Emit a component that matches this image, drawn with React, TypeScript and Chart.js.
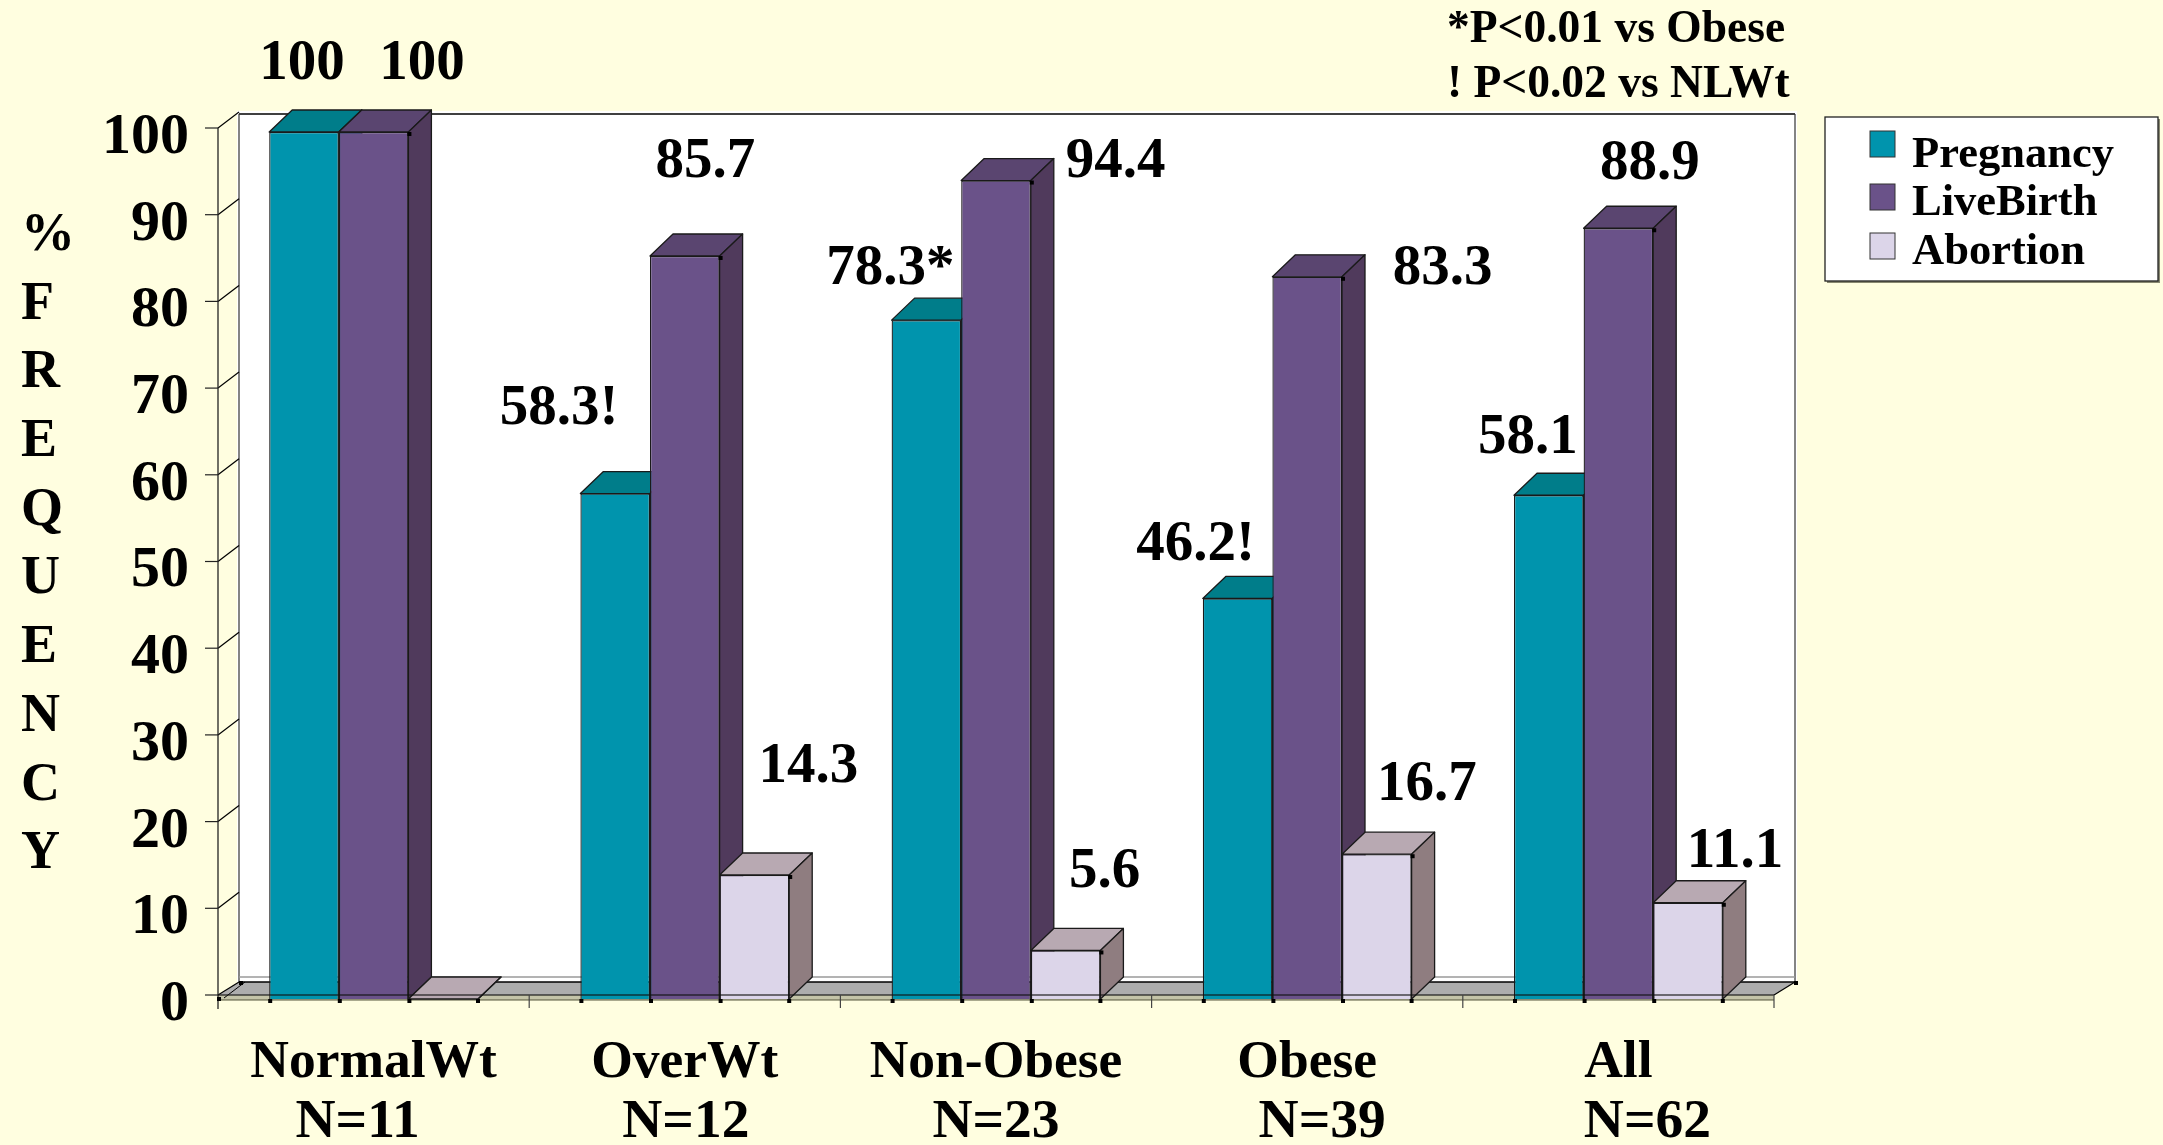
import React, { useEffect, useRef } from "react";
import { Chart, registerables } from "chart.js";

Chart.register(...registerables);

const categories = ["NormalWt", "OverWt", "Non-Obese", "Obese", "All"];
const sampleSizes = ["N=11", "N=12", "N=23", "N=39", "N=62"];
const sampleSizeDx = [-16, 1, 0, 15, 29];

const pregnancy = [100, 58.3, 78.3, 46.2, 58.1];
const liveBirth = [100, 85.7, 94.4, 83.3, 88.9];
const abortion = [0, 14.3, 5.6, 16.7, 11.1];

const pregnancyLabels = ["100", "58.3!", "78.3*", "46.2!", "58.1"];
const liveBirthLabels = ["100", "85.7", "94.4", "83.3", "88.9"];
const abortionLabels = ["", "14.3", "5.6", "16.7", "11.1"];

// Where each value label sits relative to the top centre of its bar.
const pregnancyLabelDx = [-2, -56, -36, -42, -21];
const pregnancyLabelDy = [-68, -84, -51, -53, -57];
const liveBirthLabelDx = [48.5, 20.5, 119.5, 135.5, 31.5];
const liveBirthLabelDy = [-68, -94, -18, -8, -64];
const abortionLabelDx = [0, 54, 39, 50, 47];
const abortionLabelDy = [0, -108, -78, -69, -50];

const yTitleLetters = ["%", "F", "R", "E", "Q", "U", "E", "N", "C", "Y"];
const notes = ["*P<0.01 vs Obese", "! P<0.02 vs NLWt"];

const PAGE_BG = "#FFFEE0";
const SERIF = '"Liberation Serif", "Times New Roman", serif';
const INK = "#000000";

const seriesStyles = [
  { name: "Pregnancy", front: "#0094AD", top: "#007D8A", side: "#00606E" },
  { name: "LiveBirth", front: "#6A5289", top: "#5A4570", side: "#503A5C" },
  { name: "Abortion", front: "#DCD5E9", top: "#B8A9B2", side: "#8F7D80" },
];

const DEPTH_X = 23;
const DEPTH_Y = 22;
const WALL_LEFT = 239;
const WALL_RIGHT = 1795;
const WALL_TOP = 114;
const WALL_BOTTOM = 977;
const FLOOR_BACK = 982;
const FLOOR_FRONT = 995;
const FLOOR_LIP = 1000;
const AXIS_SHIFT = 4;

function poly(ctx: CanvasRenderingContext2D, pts: number[][], fill: string | null, stroke: string | null, lw = 1) {
  ctx.beginPath();
  pts.forEach((p, i) => (i ? ctx.lineTo(p[0], p[1]) : ctx.moveTo(p[0], p[1])));
  ctx.closePath();
  if (fill) {
    ctx.fillStyle = fill;
    ctx.fill();
  }
  if (stroke) {
    ctx.strokeStyle = stroke;
    ctx.lineWidth = lw;
    ctx.stroke();
  }
}

function line(ctx: CanvasRenderingContext2D, x1: number, y1: number, x2: number, y2: number, color: string, lw = 1) {
  ctx.beginPath();
  ctx.moveTo(x1, y1);
  ctx.lineTo(x2, y2);
  ctx.strokeStyle = color;
  ctx.lineWidth = lw;
  ctx.stroke();
}

const scene = {
  id: "scene",
  // Page fill, back wall, floor and the slanted wall ticks sit behind the bars.
  beforeDraw(chart: any) {
    const { ctx, chartArea } = chart;
    const y = chart.scales.y;
    ctx.save();
    ctx.fillStyle = PAGE_BG;
    ctx.fillRect(0, 0, chart.width, chart.height);

    ctx.fillStyle = "#FFFFFF";
    ctx.fillRect(WALL_LEFT - 2, WALL_TOP - 3, WALL_RIGHT - WALL_LEFT + 4, FLOOR_BACK - WALL_TOP + 3);
    line(ctx, WALL_LEFT, WALL_TOP, WALL_RIGHT, WALL_TOP, INK, 1.5);
    line(ctx, WALL_LEFT, WALL_TOP, WALL_LEFT, FLOOR_BACK, "#333333", 1.2);
    line(ctx, WALL_RIGHT, WALL_TOP, WALL_RIGHT, FLOOR_BACK, "#333333", 1.2);
    line(ctx, WALL_LEFT, WALL_BOTTOM, WALL_RIGHT, WALL_BOTTOM, "#9A9A9A", 1.5);

    poly(
      ctx,
      [
        [chartArea.left, FLOOR_FRONT],
        [WALL_LEFT, FLOOR_BACK],
        [WALL_RIGHT, FLOOR_BACK],
        [chartArea.right, FLOOR_FRONT],
        [chartArea.right, FLOOR_LIP],
        [chartArea.left, FLOOR_LIP],
      ],
      "#ADADAD",
      null
    );
    ctx.fillStyle = "#C4C4A8";
    ctx.fillRect(chartArea.left, FLOOR_FRONT, chartArea.right - chartArea.left, FLOOR_LIP - FLOOR_FRONT);
    line(ctx, WALL_LEFT, FLOOR_BACK, WALL_RIGHT, FLOOR_BACK, INK, 1.5);
    line(ctx, chartArea.left, FLOOR_LIP, chartArea.right, FLOOR_LIP, "#55553A", 1.2);
    line(ctx, chartArea.left, FLOOR_FRONT, WALL_LEFT, FLOOR_BACK, INK, 1.2);
    line(ctx, chartArea.left + 6, FLOOR_LIP - 2, WALL_LEFT + 6, FLOOR_BACK, INK, 1);
    line(ctx, chartArea.right, FLOOR_FRONT, WALL_RIGHT, FLOOR_BACK, INK, 1.2);

    y.ticks.forEach((t: any) => {
      const py = y.getPixelForValue(t.value) - AXIS_SHIFT;
      if (t.value > 0) line(ctx, chartArea.left, py, WALL_LEFT, py - 16, INK, 1.2);
    });
    ctx.restore();
  },
  // Top and side faces go down first, series by series, so each front face covers them.
  beforeDatasetsDraw(chart: any) {
    const { ctx } = chart;
    ctx.save();
    ctx.lineJoin = "round";
    seriesStyles.forEach((s, j) => {
      chart.getDatasetMeta(j).data.forEach((bar: any) => {
        const l = bar.x - bar.width / 2;
        const r = bar.x + bar.width / 2;
        const t = bar.y;
        const b = bar.base;
        poly(
          ctx,
          [
            [l, t],
            [l + DEPTH_X, t - DEPTH_Y],
            [r + DEPTH_X, t - DEPTH_Y],
            [r, t],
          ],
          s.top,
          "#1A1A1A",
          1.3
        );
        poly(
          ctx,
          [
            [r, t],
            [r + DEPTH_X, t - DEPTH_Y],
            [r + DEPTH_X, b - DEPTH_Y],
            [r, b],
          ],
          s.side,
          "#1A1A1A",
          1.3
        );
      });
    });
    ctx.restore();
  },
  afterDatasetsDraw(chart: any) {
    const { ctx, chartArea } = chart;
    const y = chart.scales.y;
    const x = chart.scales.x;
    ctx.save();

    // Value axis with its outer tick marks.
    const y100 = y.getPixelForValue(100) - AXIS_SHIFT;
    const y0 = y.getPixelForValue(0) - AXIS_SHIFT;
    line(ctx, chartArea.left, y100, chartArea.left, y0 + 14, "#222222", 1.3);
    y.ticks.forEach((t: any) => {
      const py = y.getPixelForValue(t.value) - AXIS_SHIFT;
      line(ctx, chartArea.left - 13, py, chartArea.left, py, "#222222", 1.2);
    });

    // Category axis, running across the feet of the bars.
    ctx.globalAlpha = 0.75;
    line(ctx, chartArea.left, y0, chartArea.right, y0, "#111111", 1.3);
    ctx.globalAlpha = 1;
    const step = (chartArea.right - chartArea.left) / categories.length;
    categories.forEach((_, i) => {
      const tx = x.getPixelForValue(i) + step / 2;
      line(ctx, tx, y0, tx, y0 + 13, "#444444", 1.2);
    });

    // Small square markers at bar corners.
    ctx.fillStyle = "#000000";
    const dot = (px: number, py: number) => ctx.fillRect(px - 2, py - 2, 4, 4);
    seriesStyles.forEach((_, j) => {
      chart.getDatasetMeta(j).data.forEach((bar: any) => {
        const l = bar.x - bar.width / 2;
        const r = bar.x + bar.width / 2;
        dot(l + 1, bar.base + 2);
        if (j === 2) dot(r, bar.base + 2);
        if (j > 0 && bar.y < bar.base - 1) dot(r + 1, bar.y + 2);
      });
    });
    dot(WALL_LEFT + 2, FLOOR_BACK + 1);
    dot(WALL_RIGHT + 1, FLOOR_BACK + 1);
    dot(chartArea.left + 1, FLOOR_LIP - 1);

    // Value labels.
    ctx.fillStyle = INK;
    ctx.font = `bold 57px ${SERIF}`;
    ctx.textAlign = "center";
    ctx.textBaseline = "middle";
    const labelSets: [string[], number[], number[]][] = [
      [pregnancyLabels, pregnancyLabelDx, pregnancyLabelDy],
      [liveBirthLabels, liveBirthLabelDx, liveBirthLabelDy],
      [abortionLabels, abortionLabelDx, abortionLabelDy],
    ];
    labelSets.forEach(([labels, dx, dy], j) => {
      chart.getDatasetMeta(j).data.forEach((bar: any, i: number) => {
        if (labels[i]) ctx.fillText(labels[i], bar.x + dx[i], bar.y + dy[i]);
      });
    });

    // Second row of the category labels.
    ctx.font = `bold 55.5px ${SERIF}`;
    sampleSizes.forEach((n, i) => {
      ctx.fillText(n, x.getPixelForValue(i) + sampleSizeDx[i], 1123);
    });

    // Vertical axis caption, one letter per row.
    ctx.textAlign = "left";
    ctx.font = `bold 54px ${SERIF}`;
    yTitleLetters.forEach((ch, i) => {
      ctx.fillText(ch, 21, 236 + i * 68.7);
    });

    // Significance notes.
    ctx.textBaseline = "alphabetic";
    ctx.font = `bold 45.5px ${SERIF}`;
    ctx.fillText(notes[0], 1447, 42);
    ctx.fillText(notes[1], 1447, 97);

    // Legend box.
    ctx.fillStyle = "#888870";
    ctx.fillRect(1827, 119, 333, 164);
    ctx.fillStyle = "#FFFFFF";
    ctx.fillRect(1825, 117, 333, 164);
    ctx.strokeStyle = "#222222";
    ctx.lineWidth = 1.3;
    ctx.strokeRect(1825, 117, 333, 164);
    const rowTops = [131, 184, 233];
    const rowBase = [167, 215, 264];
    ctx.font = `bold 44.5px ${SERIF}`;
    seriesStyles.forEach((s, j) => {
      ctx.fillStyle = s.front;
      ctx.fillRect(1870, rowTops[j], 25, 26);
      ctx.strokeStyle = "#333333";
      ctx.lineWidth = 1;
      ctx.strokeRect(1870, rowTops[j], 25, 26);
      ctx.fillStyle = INK;
      ctx.fillText(s.name, 1912, rowBase[j]);
    });
    ctx.restore();
  },
};

export default function App() {
  const ref = useRef<HTMLCanvasElement | null>(null);

  useEffect(() => {
    const chart = new Chart(ref.current as HTMLCanvasElement, {
      type: "bar",
      data: {
        labels: categories,
        datasets: [pregnancy, liveBirth, abortion].map((values, j) => ({
          label: seriesStyles[j].name,
          data: values,
          backgroundColor: seriesStyles[j].front,
          borderColor: "#1A1A1A",
          borderWidth: 1.3,
          barPercentage: 1,
          categoryPercentage: 0.671,
        })),
      },
      options: {
        animation: false,
        responsive: false,
        maintainAspectRatio: false,
        layout: { padding: { left: 0, top: 132, right: 389, bottom: 0 } },
        plugins: { legend: { display: false }, title: { display: false }, tooltip: { enabled: false } },
        scales: {
          x: {
            grid: { display: false, drawTicks: false },
            border: { display: false },
            afterFit: (s: any) => {
              s.height = 146;
            },
            ticks: {
              color: INK,
              maxRotation: 0,
              autoSkip: false,
              padding: 33,
              font: { family: SERIF, size: 53.5, weight: "bold", lineHeight: 1.17 },
            },
          },
          y: {
            min: 0,
            max: 100,
            grid: { display: false, drawTicks: false },
            border: { display: false },
            afterFit: (s: any) => {
              s.width = 218;
            },
            ticks: {
              stepSize: 10,
              color: INK,
              padding: 29,
              labelOffset: 6,
              font: { family: SERIF, size: 58, weight: "bold" },
            },
          },
        },
      },
      plugins: [scene],
    } as any);
    return () => chart.destroy();
  }, []);

  return (
    <div style={{ position: "absolute", left: 0, top: 0, width: 2163, height: 1145, background: PAGE_BG, overflow: "hidden" }}>
      <canvas ref={ref} width={2163} height={1145} style={{ display: "block" }} />
    </div>
  );
}
